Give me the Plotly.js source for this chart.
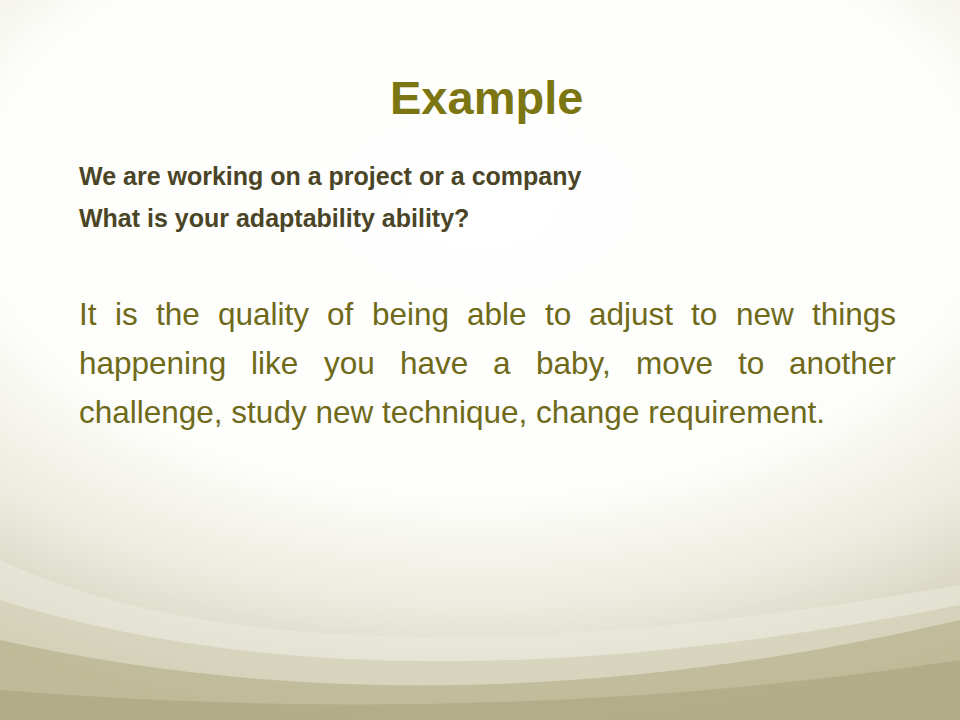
<!DOCTYPE html>
<html><head><meta charset="utf-8">
<script src="https://cdn.plot.ly/plotly-3.0.1.min.js"></script>
<style>
html,body{margin:0;padding:0;}
#c{width:960px;height:720px;background:radial-gradient(ellipse 95% 75% at 50% 28%, #ffffff 0%, #fdfdfa 55%, #ecebdf 75%, #d4d1bb 92%, #c2bea0 100%);}
</style></head><body>
<div id="c"></div>
<script>
const titleText = "Example";
const subLines = ["We are working on a project or a company", "What is your adaptability ability?"];
const bodyLines = ["It is the quality of being able to adjust to new things",
                   "happening like you have a baby, move to another",
                   "challenge, study new technique, change requirement."];
const bodyJustified = [true, true, false];

const L = 77, R = 894, bodySize = 31.5, bodyFont = "Liberation Sans, Arial, sans-serif";
const cv = document.createElement('canvas').getContext('2d');
cv.font = bodySize + "px 'Liberation Sans'";
const ann = [];
ann.push({text:"<b>"+titleText+"</b>", x:486, y:97, xref:'x', yref:'y', showarrow:false,
  font:{family:"Liberation Sans, Arial", size:47, color:"#7b7512"}});
subLines.forEach((t,i)=>ann.push({text:"<b>"+t+"</b>", x:L, y:176+i*42, xref:'x', yref:'y', xanchor:'left', showarrow:false,
  font:{family:"Liberation Sans, Arial", size:25, color:"#4a4526"}}));
bodyLines.forEach((line,i)=>{
  const y = 314 + i*49;
  const col = "#6e6a1a";
  if(!bodyJustified[i]){
    ann.push({text:line, x:L, y:y, xref:'x', yref:'y', xanchor:'left', showarrow:false, font:{family:bodyFont,size:bodySize,color:col}});
    return;
  }
  const words = line.split(' ');
  const widths = words.map(w=>cv.measureText(w).width);
  const total = widths.reduce((a,b)=>a+b,0);
  const gap = (R-L-total)/(words.length-1);
  let x = L;
  words.forEach((w,j)=>{
    ann.push({text:w, x:x, y:y, xref:'x', yref:'y', xanchor:'left', showarrow:false, font:{family:bodyFont,size:bodySize,color:col}});
    x += widths[j]+gap;
  });
});
const shapes = [
 {type:'path', path:'M0,560 Q300,700 960,585 L960,720 L0,720 Z', fillcolor:'rgba(235,233,220,0.6)', line:{width:0}, layer:'below'},
 {type:'path', path:'M0,600 Q380,720 960,605 L960,720 L0,720 Z', fillcolor:'rgba(200,196,165,0.45)', line:{width:0}, layer:'below'},
 {type:'path', path:'M0,640 Q450,740 960,620 L960,720 L0,720 Z', fillcolor:'rgba(175,170,130,0.55)', line:{width:0}, layer:'below'},
 {type:'path', path:'M0,690 Q500,730 960,660 L960,720 L0,720 Z', fillcolor:'rgba(165,160,120,0.5)', line:{width:0}, layer:'below'}
];
Plotly.newPlot('c', [], {
  width:960, height:720, margin:{l:0,r:0,t:0,b:0},
  paper_bgcolor:'rgba(0,0,0,0)', plot_bgcolor:'rgba(0,0,0,0)',
  xaxis:{range:[0,960], visible:false, fixedrange:true},
  yaxis:{range:[720,0], visible:false, fixedrange:true},
  annotations:ann, shapes:shapes, showlegend:false
}, {staticPlot:true, displayModeBar:false});
</script></body></html>
